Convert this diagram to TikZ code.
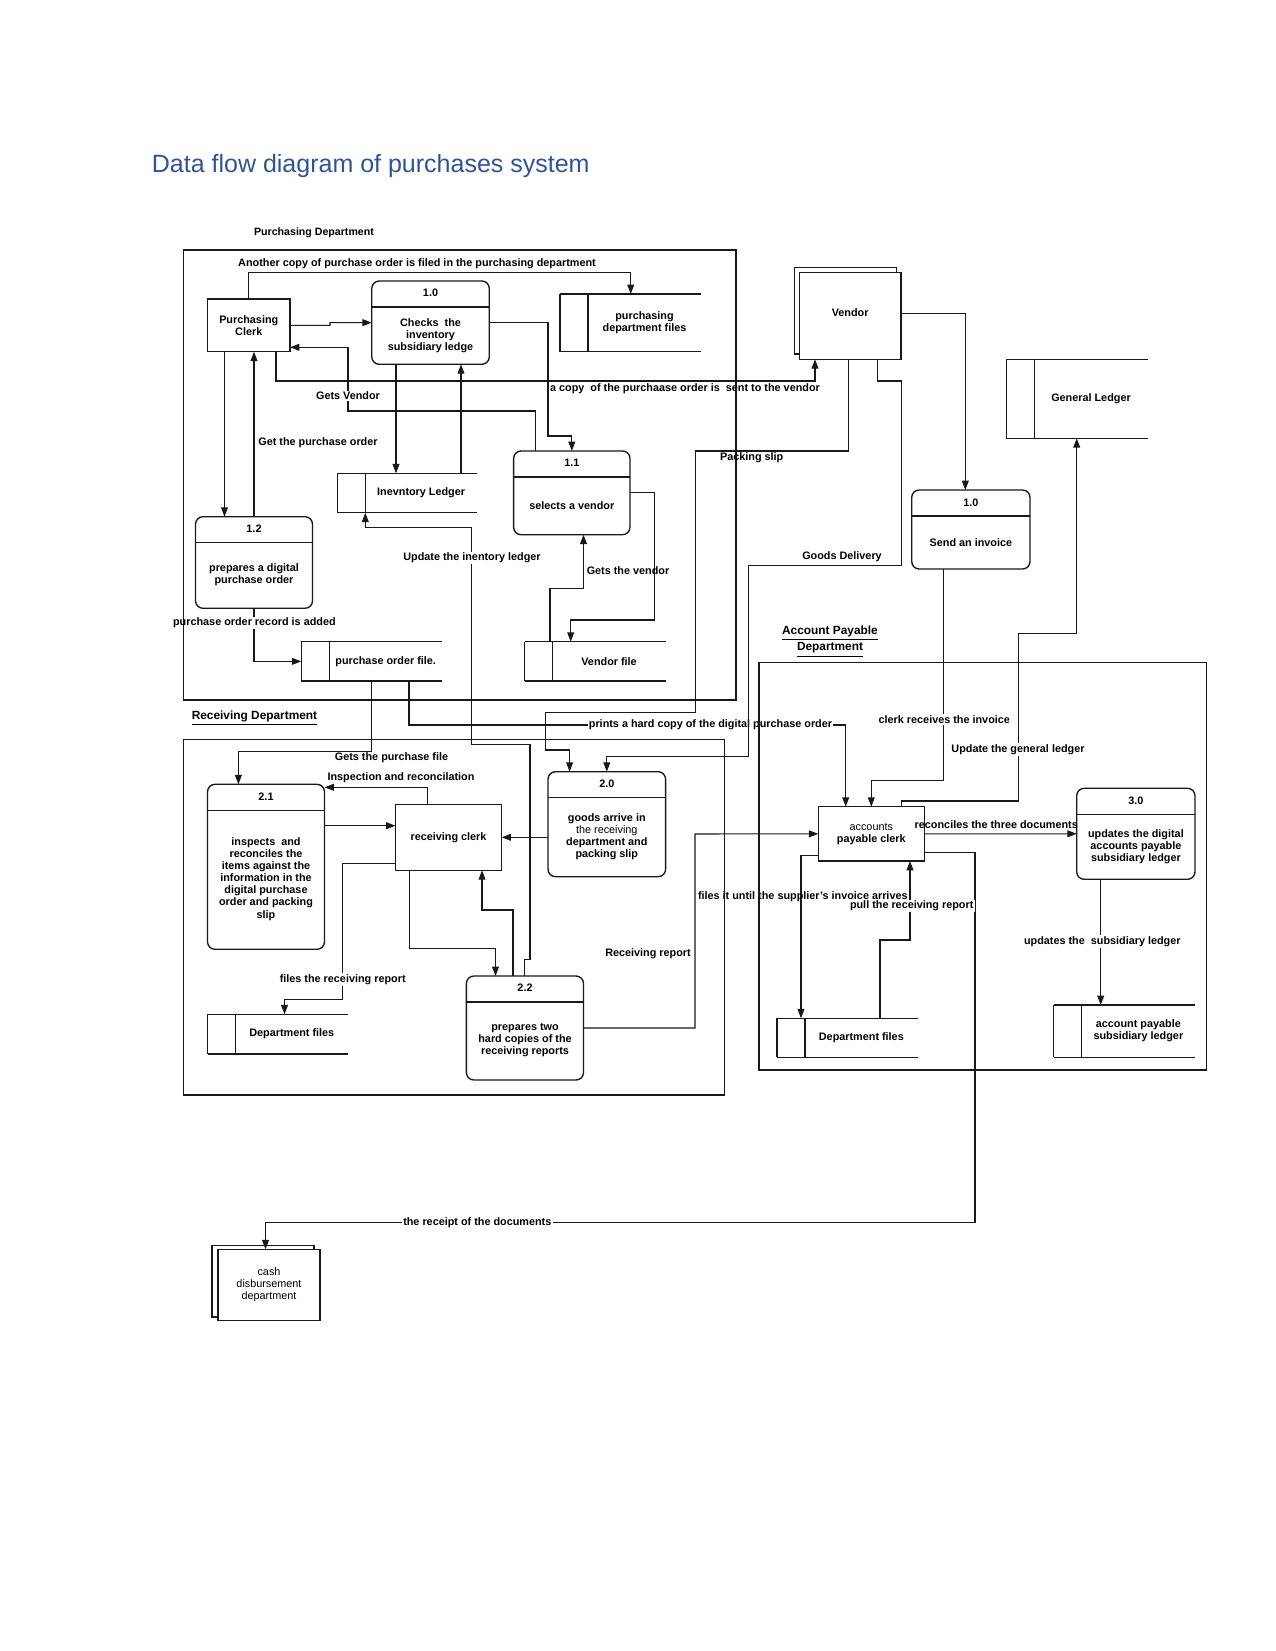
\documentclass[tikz,border=0pt]{standalone}
\usepackage{fontspec}
\setmainfont{Liberation Sans}
\usepackage{xcolor}
\usetikzlibrary{arrows.meta,calc,shadows}
\definecolor{dfdTitle}{RGB}{47,84,150}
\definecolor{dfdLine}{RGB}{25,25,25}
\newcommand{\lblfont}{\bfseries\fontsize{5.2}{5.8}\selectfont}
\newcommand{\headfont}{\bfseries\fontsize{5.7}{6.8}\selectfont}

\begin{document}
\begin{tikzpicture}[x=0.48pt,y=-0.48pt,
    flow/.style={draw=dfdLine, line width=0.5pt, -{Triangle[length=4.5pt,width=3.3pt]}},
    dfdframe/.style={draw=dfdLine, line width=0.55pt},
    sz/.style 2 args={minimum width=#1*0.48pt, minimum height=#2*0.48pt},
    dfdbox/.style={draw=dfdLine, line width=0.65pt, anchor=north west, inner sep=0pt, outer sep=0pt, font=\lblfont, align=center},
    ext/.style={dfdbox, fill=white},
    hdrln/.style={draw=dfdLine, line width=0.55pt},
    proc/.style={dfdbox, rounded corners=3.6pt,
        append after command={([yshift=-12.5pt]\tikzlastnode.north west) edge[hdrln] ([yshift=-12.5pt]\tikzlastnode.north east)}},
    stln/.style={draw=dfdLine, line width=0.55pt},
    store/.style={anchor=north west, inner sep=0pt, outer sep=0pt, font=\lblfont, align=center,
        append after command={
            ([xshift=-13.44pt]\tikzlastnode.north west) edge[stln] (\tikzlastnode.north east)
            ([xshift=-13.44pt]\tikzlastnode.south west) edge[stln] (\tikzlastnode.south east)
            ([xshift=-13.44pt]\tikzlastnode.north west) edge[stln] ([xshift=-13.44pt]\tikzlastnode.south west)
            (\tikzlastnode.north west) edge[stln] (\tikzlastnode.south west)}},
    lbl/.style={font=\lblfont, inner sep=0.6pt, align=center},
    cut/.style={lbl, fill=white},
    num/.style={font=\lblfont, inner sep=0pt},
    txt/.style={font=\lblfont, inner sep=0pt, align=center}]

\useasboundingbox (0,0) rectangle (1275,1651);

\node[anchor=base west, inner sep=0pt, font=\fontsize{12}{14}\selectfont, text=dfdTitle] (title) at (151.5,173) {Data flow diagram of purchases system};

% =========================
% Nodes: purchasing department
% =========================
\node[dfdbox, sz={82.5}{52.7}] (clerk) at (207.5,299) {Purchasing\\Clerk};

\node[proc, sz={117.5}{83.3}] (p10) at (371.8,281) {};
\node[num] (p10n) at (430.5,293) {1.0};
\node[txt] (p10t) at (430.5,335.6) {Checks~ the\\inventory\\subsidiary ledge};

\node[proc, sz={116.4}{83.7}] (p11) at (513.6,451) {};
\node[num] (p11n) at (571.8,463) {1.1};
\node[txt] (p11t) at (571.8,505.5) {selects a vendor};

\node[proc, sz={117}{91.6}] (p12) at (195.5,516.7) {};
\node[num] (p12n) at (254,529) {1.2};
\node[txt] (p12t) at (254,575) {prepares a digital\\purchase order};

\node[store, sz={113}{57.7}] (pfiles) at (588,294) {purchasing\\department files};
\node[store, sz={111.7}{39.4}] (invled) at (365.3,473.3) {Inevntory Ledger};
\node[store, sz={112.7}{39.3}] (pofile) at (329.3,641.7) {purchase order file.};
\node[store, sz={113.1}{39.3}] (venfile) at (552.5,641.7) {Vendor file};

% =========================
% Nodes: vendor side
% =========================
\node[ext, sz={101.7}{86.6}, text depth=3.4pt, copy shadow={shadow xshift=-2.2pt, shadow yshift=2.5pt}] (vendor) at (799.3,272.7) {Vendor};
\node[store, sz={113.4}{79}] (genled) at (1034.3,359.3) {General Ledger};

\node[proc, sz={118.3}{79}] (pinv) at (911.7,490) {};
\node[num] (pinvn) at (970.9,502.5) {1.0};
\node[txt] (pinvt) at (970.9,542.5) {Send an invoice};

% =========================
% Nodes: receiving department
% =========================
\node[dfdbox, sz={106.1}{66}] (rclerk) at (395.5,804.3) {receiving clerk};

\node[proc, sz={117}{165}] (p21) at (207.5,784.3) {};
\node[num] (p21n) at (266,796.3) {2.1};
\node[txt] (p21t) at (266,879) {inspects~ and\\reconciles the\\items against the\\information in the\\digital purchase\\order and packing\\slip};

\node[proc, sz={117.6}{105}] (p20) at (548,771.7) {};
\node[num] (p20n) at (606.8,784) {2.0};
\node[txt] (p20t) at (606.8,837) {goods arrive in\\{\mdseries the receiving}\\department and\\packing slip};

\node[proc, sz={117.1}{104}] (p22) at (466.4,976) {};
\node[num] (p22n) at (525,988) {2.2};
\node[txt] (p22t) at (525,1040) {prepares two\\hard copies of the\\receiving reports};

\node[store, sz={112.5}{39.7}] (rfiles) at (235.5,1014.3) {Department files};

% =========================
% Nodes: account payable department
% =========================
\node[dfdbox, sz={106}{54.3}] (apclerk) at (818.3,806.7) {{\mdseries accounts}\\payable clerk};

\node[proc, sz={118.3}{91}] (p30) at (1076.7,788.3) {};
\node[num] (p30n) at (1135.9,800.5) {3.0};
\node[txt] (p30t) at (1135.9,846.5) {updates the digital\\accounts payable\\subsidiary ledger};

\node[store, sz={112.7}{39}] (apfiles) at (805,1018.3) {Department files};
\node[store, sz={113.3}{52.3}] (apled) at (1081.7,1005) {account payable\\subsidiary ledger};

\node[ext, sz={102}{71.4}, font=\mdseries\fontsize{5.2}{5.8}\selectfont, copy shadow={shadow xshift=-2.9pt, shadow yshift=1.8pt}] (cash) at (218,1249.3) {cash\\disbursement\\department};

% =========================
% Connectors
% =========================
\draw[flow] (pofile.south -| 409,0) |- (845.7,725) -- (apclerk.north -| 845.7,0);
\node[cut] (lprint) at (710.5,725) {prints a hard copy of the digital purchase order};

% purchasing
\draw[flow] (clerk.north) |- (630.7,272.7) -- (pfiles.north -| 630.7,0);
\draw[flow] (clerk.east) -- (330,325.4) |- (p10.west);
\draw[flow] (p11.north -| 535.5,0) |- (348,411) |- (clerk.east |- 0,347.3);
\draw[flow] (clerk.south -| 276,0) |- (815,381) -- (vendor.south -| 815,0);
\draw[flow] (p10.east) -| (548,436) -| (p11.north);
\draw[flow] (p10.south -| 396,0) -- (invled.north -| 396,0);
\draw[flow] (invled.north -| 461,0) -- (p10.south -| 461,0);
\draw[flow] (clerk.south -| 224.5,0) -- (p12.north -| 224.5,0);
\draw[flow] (p12.north) -- (clerk.south -| p12.north);
\draw[flow] (p12.south) |- ([xshift=-13.44pt]pofile.west);
\draw[flow] (p11.east) -| (654.7,620) -| (venfile.north -| 570.7,0);
\draw[flow] (venfile.north -| 550,0) |- (583.5,588.3) -- (p11.south -| 583.5,0);

% vendor
\draw[flow] (vendor.south -| 848.3,0) |- (695.5,451) |- (545.5,712.7) |- (569.6,750) -- (p20.north -| 569.6,0);
\draw[flow] (vendor.south -| 877.7,0) |- (901.7,381) |- (748.3,565.7) |- (p20.north |- 0,756.7) -- (p20.north);
\draw[flow] (vendor.east |- 0,313.3) -| (pinv.north -| 965.3,0);

% receiving
\draw[flow] (pofile.south -| 371.8,0) |- (238.4,751.7) -- (p21.north -| 238.4,0);
\draw[flow] (p20.west |- rclerk.east) -- (rclerk.east);
\draw[flow] (rclerk.north -| 427.5,0) |- (p21.east |- 0,787.3);
\draw[flow] (p21.east |- 0,825.7) -- (rclerk.west |- 0,825.7);
\draw[flow] (rclerk.west |- 0,863.3) -| (342.7,999.3) -| (rfiles.north -| 284.5,0);
\draw[flow] (rclerk.south -| 409.3,0) |- (495.5,948.3) -- (p22.north -| 495.5,0);
\draw[flow] (p22.north -| 513,0) |- (482,910) -- (rclerk.south -| 482,0);
\draw[flow] (p22.north) |- (530,959.3) |- (471.8,744.3) |- (365.3,527.7) -- (invled.south west);
\draw[flow] (p22.east) -| (695,834) -- (apclerk.west);

% account payable
\draw[flow] (pinv.south -| 943.3,0) |- (apclerk.north |- 0,780.3) -- (apclerk.north);
\draw[flow] (apclerk.north -| 901.7,0) |- (1018.3,801) |- (1076.7,633.3) -- (genled.south -| 1076.7,0);
\draw[flow] (apclerk.east) -- (p30.west);
\draw[flow] (p30.south -| 1100.7,0) -- (apled.north -| 1100.7,0);
\draw[flow] (apclerk.west |- 0,855.7) -| (apfiles.north -| 801,0);
\draw[flow] (apfiles.north -| 880,0) |- (910,940) -- (apclerk.south -| 910,0);
\draw[flow] (apclerk.east |- 0,852.7) -| (975,1222.7) -| (cash.north -| 265.5,0);

% =========================
% Labels
% =========================
\node[lbl, font=\bfseries\fontsize{5.1}{6}\selectfont] (hpur) at (314,233) {Purchasing Department};
\node[lbl, font=\headfont] (hrec) at (254.5,718.3) {\underline{Receiving Department}};
\node[lbl, font=\headfont] (hap) at (830,641.5) {\underline{Account Payable}\\\underline{Department}};

\node[lbl] (lanother) at (417,264) {Another copy of purchase order is filed in the purchasing department};
\node[cut] (lgetsv) at (348,396) {Gets Vendor};
\node[lbl] (lcopy) at (685,388.5) {a copy~ of the purchaase order is~ sent to the vendor};
\node[lbl] (lgetpo) at (318,442.7) {Get the purchase order};
\node[lbl] (lpack) at (751.7,457.7) {Packing slip};
\node[cut] (lupdinv) at (472,558) {Update the inentory ledger};
\node[lbl] (lgetven) at (628,571) {Gets the vendor};
\node[lbl] (lgoods) at (842,556.7) {Goods Delivery};
\node[cut] (lrecord) at (254.4,623) {purchase order record is added};
\node[lbl] (lgetpf) at (391.5,757.3) {Gets the purchase file};
\node[lbl] (linsp) at (401,777.7) {Inspection and reconcilation};
\node[cut] (lfilesr) at (342.7,979.3) {files the receiving report};
\node[lbl] (lrecrep) at (648,953.3) {Receiving report};
\node[cut] (linvoice) at (944.3,719.3) {clerk receives the invoice};
\node[cut] (lgenled) at (1018,749.7) {Update the general ledger};
\node[lbl] (lrecon) at (996.3,825) {reconciles the three documents};
\node[lbl] (luntil) at (802.8,896.7) {files it until the supplier’s invoice arrives};
\node[cut] (lpull) at (911.7,906) {pull the receiving report};
\node[cut] (lsubled) at (1102.3,941.3) {updates the~ subsidiary ledger};
\node[cut] (lreceipt) at (477.3,1222.7) {the receipt of the documents};

% =========================
% Department frames
% =========================
\draw[dfdframe] (183.5,250) rectangle (736,700);
\draw[dfdframe] (183.5,739.3) rectangle (724.5,1095);
\draw[dfdframe] (759,662.3) rectangle (1206.7,1070);

\end{tikzpicture}
\end{document}
